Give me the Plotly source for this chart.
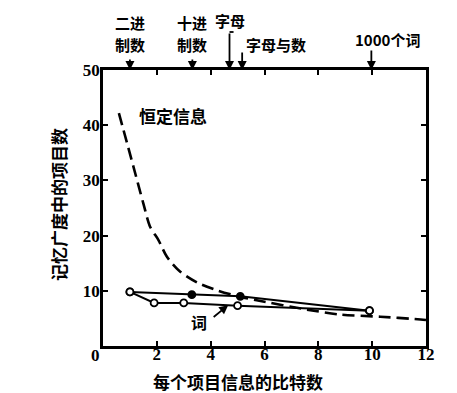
import plotly.graph_objects as go

# Constant-information dashed curve
const_x = [0.59, 1.13, 1.5, 1.75, 2.06, 2.37, 2.86, 3.54, 4.23, 5.09, 5.71, 7.57, 8.81, 10.3, 11.8, 12.0]
const_y = [42.2, 32.5, 25.8, 21.6, 19.2, 16.2, 13.5, 11.4, 10.1, 8.9, 8.3, 6.6, 5.7, 5.3, 4.8, 4.7]

# Upper series
upper_x = [1.0, 3.3, 5.1, 9.9]
upper_y = [9.8, 9.3, 9.0, 6.4]
upper_filled = [False, True, True, False]

# Lower series (words)
lower_x = [1.0, 1.9, 3.0, 5.0, 9.9]
lower_y = [9.8, 7.8, 7.8, 7.3, 6.4]

# Top reference labels (one entry per text line)
top_label_lines = [["二进", "制数"], ["十进", "制数"], ["字母"], ["字母与数"], ["1000个词"]]
top_arrow_x = [1.0, 3.32, 4.7, 5.17, 9.97]
top_label_x = [1.0, 3.32, 4.7, 6.43, 10.56]

x_ticks = [2, 4, 6, 8, 10, 12]
y_ticks = [10, 20, 30, 40, 50]

CJK = "Noto Sans CJK SC"
NUM = dict(family="Liberation Serif", size=17, color="black", weight="bold")

fig = go.Figure()
fig.add_trace(go.Scatter(x=const_x, y=const_y, mode="lines",
                         line=dict(color="black", width=2.6, dash="12px,6px", shape="spline", smoothing=0.8),
                         showlegend=False, hoverinfo="skip"))
fig.add_trace(go.Scatter(x=upper_x, y=upper_y, mode="lines+markers",
                         line=dict(color="black", width=2),
                         marker=dict(size=7, symbol="circle",
                                     color=["black" if f else "white" for f in upper_filled],
                                     line=dict(color="black", width=1.8)),
                         showlegend=False, hoverinfo="skip"))
fig.add_trace(go.Scatter(x=lower_x, y=lower_y, mode="lines+markers",
                         line=dict(color="black", width=2),
                         marker=dict(size=7, symbol="circle", color="white",
                                     line=dict(color="black", width=1.8)),
                         showlegend=False, hoverinfo="skip"))

# page has an 8px body margin: figure sized to fit the window after it
OFF = 8
W, H = 457 - OFF, 393 - OFF
L, R, T, B = 103 - OFF, 31, 70 - OFF, 47
PW, PH = W - L - R, H - T - B

def px(xp):  # page pixel x -> paper
    return (xp - OFF - L) / PW

def py(yp):  # page pixel y -> paper
    return (H - B - (yp - OFF)) / PH

fig.update_layout(
    width=W, height=H,
    margin=dict(l=L, r=R, t=T, b=B, autoexpand=False),
    paper_bgcolor="white", plot_bgcolor="white",
    xaxis=dict(range=[0, 12], tickvals=x_ticks, ticktext=[str(v) for v in x_ticks],
               ticks="inside", ticklen=5, tickwidth=2, tickcolor="black",
               showline=True, linewidth=2.5, linecolor="black", mirror="ticks",
               showgrid=False, zeroline=False, tickfont=NUM, ticklabelstandoff=-9),
    yaxis=dict(range=[0, 50], tickvals=y_ticks, ticktext=[str(v) for v in y_ticks],
               ticks="inside", ticklen=5, tickwidth=2, tickcolor="black",
               showline=True, linewidth=2.5, linecolor="black", mirror="ticks",
               showgrid=False, zeroline=False, tickfont=NUM, ticklabelstandoff=-3),
)

annots = []
# corner zero
annots.append(dict(x=0, y=0, xref="x", yref="y", text="0", showarrow=False,
                   xanchor="right", yanchor="top", xshift=-1, yshift=2, font=NUM))
# axis titles
annots.append(dict(x=px(58), y=py(205), xref="paper", yref="paper",
                   xanchor="center", yanchor="middle",
                   text="记忆广度中的项目数", textangle=-90, showarrow=False,
                   font=dict(family=CJK, size=17, color="black", weight="bold")))
annots.append(dict(x=px(238), y=py(381), xref="paper", yref="paper",
                   xanchor="center", yanchor="middle",
                   text="每个项目信息的比特数", showarrow=False,
                   font=dict(family=CJK, size=17, color="black", weight="bold")))
# curve labels
annots.append(dict(x=2.6, y=41.7, xref="x", yref="y", text="恒定信息", showarrow=False,
                   font=dict(family=CJK, size=17, color="black", weight="bold")))
annots.append(dict(x=3.57, y=4.35, xref="x", yref="y", text="词", showarrow=False,
                   font=dict(family=CJK, size=16, color="black", weight="bold")))
annots.append(dict(x=4.65, y=7.4, xref="x", yref="y", text="", showarrow=True,
                   ax=-16, ay=13, arrowhead=2, arrowsize=1, arrowwidth=1.8, arrowcolor="black"))

# top labels: page pixel rows of each text line's centre, and arrow tail lengths
label_rows = [[23, 44], [23, 44], [20], [44], [40]]
tails = [-12, -12, -38, -19, -21]
TF = dict(family=CJK, size=15, color="black", weight="bold")
for lines, lx, rows, ax_, tl in zip(top_label_lines, top_label_x, label_rows, top_arrow_x, tails):
    for txt, row in zip(lines, rows):
        annots.append(dict(x=lx / 12, y=py(row), xref="paper", yref="paper", text=txt, showarrow=False,
                           xanchor="center", yanchor="middle", font=TF, borderpad=0))
    annots.append(dict(x=ax_, y=50, xref="x", yref="y", text="", showarrow=True,
                       ax=0, ay=tl, arrowhead=2, arrowsize=1, arrowwidth=1.8, arrowcolor="black"))
fig.update_layout(annotations=annots)

# small bracket at top of the letters arrow
fig.add_shape(type="line", xref="paper", yref="paper", x0=4.7 / 12, x1=4.85 / 12,
              y0=py(32), y1=py(32), line=dict(color="black", width=1.8))

fig.write_html("out.html")
